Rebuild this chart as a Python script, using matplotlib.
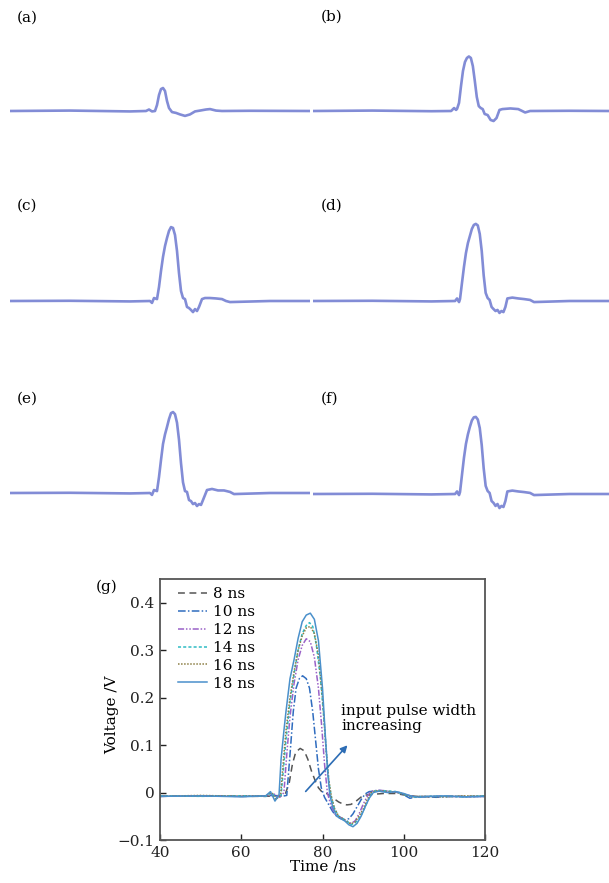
import numpy as np
import matplotlib.pyplot as plt

plt.rcParams['font.family'] = ['DejaVu Serif']

W, H = 609, 883

# ---- oscilloscope traces (a)-(f): time /ns, amplitude /V ----
t_a = [0, 30, 60, 68, 69.5, 71, 72.5, 73.5, 74.5, 75.5, 76.5, 77.5, 78.5, 79.5, 81, 83, 85,
       87.5, 90, 92.5, 95, 98, 100, 103, 106, 120, 150]
v_a = [0, 0.002, -0.002, 0, 0.007, -0.002, 0, 0.028, 0.075, 0.103, 0.108, 0.094, 0.047,
       0.014, -0.005, -0.009, -0.016, -0.023, -0.016, -0.002, 0.002, 0.007, 0.009, 0.002,
       0, 0.001, 0]

t_b = [0, 30, 60, 70, 71.5, 72.5, 73, 74, 75, 76, 77, 78, 79, 80, 81, 82, 83, 84, 85, 86,
       87, 88.5, 90, 91.5, 93, 94.5, 96, 100, 104, 106, 107.5, 110, 130, 150]
v_b = [0, 0.002, -0.001, 0, 0.014, 0.005, 0.01, 0.038, 0.117, 0.188, 0.23, 0.249, 0.256,
       0.249, 0.211, 0.141, 0.066, 0.023, 0.014, 0.009, -0.014, -0.019, -0.042, -0.047,
       -0.033, 0.005, 0.009, 0.012, 0.009, 0, -0.007, 0, 0.001, 0]

t_c = [0, 30, 60, 70, 71, 72, 73.5, 74.5, 75.5, 76.5, 77.5, 78.5, 79.5, 80.5, 81.5, 82.5,
       83.5, 84.5, 85.5, 86.5, 87.5, 88.5, 89.5, 90.5, 91.5, 92.5, 93.5, 94.5, 96, 97.5,
       100, 103, 106, 108, 110, 130, 150]
v_c = [0, 0.001, -0.002, 0, -0.009, 0.014, 0.009, 0.066, 0.141, 0.207, 0.258, 0.296, 0.329,
       0.347, 0.343, 0.31, 0.235, 0.131, 0.047, 0.014, 0.009, -0.028, -0.033, -0.042,
       -0.052, -0.038, -0.047, -0.028, 0.009, 0.014, 0.014, 0.012, 0.009, 0, -0.005, 0, 0]

t_d = [0, 30, 60, 72, 73, 74, 74.5, 75.5, 76.5, 77.5, 78.5, 79.5, 80.5, 81.5, 82.5, 83.5,
       84.5, 85.5, 86.5, 87.5, 88.5, 89.5, 90.5, 91.5, 92.5, 93.5, 94.5, 95.5, 96.5, 97.5,
       98.5, 101, 104, 107, 110, 112, 130, 150]
v_d = [0, 0.001, -0.002, 0, 0.012, -0.005, 0.009, 0.085, 0.16, 0.225, 0.272, 0.305, 0.338,
       0.357, 0.362, 0.355, 0.315, 0.235, 0.12, 0.038, 0.014, 0.005, -0.028, -0.038, -0.047,
       -0.042, -0.056, -0.047, -0.052, -0.028, 0.012, 0.016, 0.012, 0.009, 0.005, -0.005, 0, 0]

t_e = [0, 30, 60, 70, 71, 72, 73.5, 74.5, 75.5, 76.5, 77.5, 78.5, 79.5, 80.5, 81.5, 82.5,
       83.5, 84.5, 85.5, 86.5, 87.5, 88.5, 89.5, 90.5, 91.5, 92.5, 93.5, 94.5, 95.5, 96.5,
       98.5, 101, 104, 107, 110, 112, 130, 150]
v_e = [0, 0.001, -0.002, 0, -0.009, 0.014, 0.009, 0.075, 0.155, 0.23, 0.275, 0.31, 0.347,
       0.375, 0.38, 0.37, 0.33, 0.25, 0.14, 0.05, 0.009, 0.005, -0.033, -0.038, -0.052,
       -0.047, -0.061, -0.052, -0.056, -0.033, 0.014, 0.019, 0.012, 0.012, 0.005, -0.005, 0, 0]

t_f = [0, 30, 60, 72, 73, 74, 74.5, 75.5, 76.5, 77.5, 78.5, 79.5, 80.5, 81.5, 82.5, 83.5,
       84.5, 85.5, 86.5, 87.5, 88.5, 89.5, 90.5, 91.5, 92.5, 93.5, 94.5, 95.5, 96.5, 97.5,
       98.5, 101, 104, 107, 110, 112, 130, 150]
v_f = [0, 0.001, -0.002, 0, 0.012, -0.005, 0.009, 0.09, 0.17, 0.235, 0.28, 0.315, 0.345,
       0.36, 0.362, 0.35, 0.31, 0.23, 0.12, 0.038, 0.014, 0.005, -0.033, -0.042, -0.056,
       -0.047, -0.066, -0.056, -0.061, -0.033, 0.012, 0.016, 0.012, 0.009, 0.005, -0.005, 0, 0]

traces = [('(a)', t_a, v_a), ('(b)', t_b, v_b), ('(c)', t_c, v_c),
          ('(d)', t_d, v_d), ('(e)', t_e, v_e), ('(f)', t_f, v_f)]

# ---- panel (g): measured output for each input pulse width ----
widths = ['8 ns', '10 ns', '12 ns', '14 ns', '16 ns', '18 ns']

t_8 = [40, 50, 60, 66, 68, 70, 70.8, 71.8, 72.6, 73.4, 74.5, 75.5, 76.4, 77.3, 78.2, 79, 80,
       81, 82, 83, 84, 85, 86, 87, 88, 89, 90, 92, 95, 98, 100, 103, 106, 110, 115, 120]
v_8 = [-0.008, -0.007, -0.008, -0.008, -0.007, -0.006, -0.004, 0.02, 0.06, 0.085, 0.093,
       0.088, 0.07, 0.045, 0.025, 0.01, 0.0, -0.002, -0.008, -0.014, -0.02, -0.024, -0.026,
       -0.025, -0.02, -0.013, -0.006, -0.004, -0.002, -0.002, -0.005, -0.008, -0.009,
       -0.008, -0.008, -0.008]

t_10 = [40, 50, 60, 66, 68, 70, 71.2, 72, 72.8, 73.5, 74.3, 75.1, 76, 76.8, 77.6, 78.3, 79,
        79.7, 80.5, 81.5, 82.5, 83.5, 84.5, 85.5, 86.5, 87.5, 88.5, 89.5, 90.5, 91.5, 93,
        96, 99, 101.5, 104, 108, 112, 116, 120]
v_10 = [-0.008, -0.007, -0.008, -0.007, -0.006, -0.008, -0.006, 0.08, 0.17, 0.22, 0.24,
        0.246, 0.24, 0.22, 0.17, 0.11, 0.05, 0.01, -0.01, -0.025, -0.04, -0.05, -0.055,
        -0.058, -0.055, -0.045, -0.03, -0.015, -0.003, 0.002, 0.003, 0.002, 0.0, -0.012,
        -0.008, -0.01, -0.008, -0.009, -0.008]

t_12 = [40, 50, 60, 66, 68, 69.5, 70.5, 71.2, 72, 73, 74, 75, 76, 77, 78, 79, 79.8, 80.5,
        81.2, 82, 83, 84, 85, 86, 87, 88, 89, 90, 91, 92, 94, 96, 98, 100, 103, 106, 110,
        115, 120]
v_12 = [-0.008, -0.007, -0.008, -0.007, -0.003, -0.01, 0.0, 0.08, 0.16, 0.23, 0.28, 0.31,
        0.324, 0.318, 0.285, 0.22, 0.14, 0.06, 0.0, -0.025, -0.045, -0.05, -0.055, -0.06,
        -0.065, -0.06, -0.045, -0.025, -0.008, 0.003, 0.005, 0.003, 0.001, -0.003, -0.01,
        -0.008, -0.008, -0.009, -0.008]

t_14 = [40, 50, 60, 66, 67.5, 68.5, 69.8, 70.4, 71, 72, 73, 74, 75, 76, 76.8, 77.6, 78.5,
        79.5, 80.3, 81, 81.6, 82.2, 83, 84, 85, 86, 87, 88, 89, 90, 91, 92, 93, 95, 98, 100,
        103, 106, 110, 115, 120]
v_14 = [-0.007, -0.008, -0.007, -0.008, 0.0, -0.012, -0.006, 0.05, 0.11, 0.19, 0.25, 0.3,
        0.335, 0.352, 0.358, 0.35, 0.31, 0.24, 0.16, 0.08, 0.02, -0.01, -0.035, -0.05,
        -0.055, -0.06, -0.068, -0.064, -0.055, -0.04, -0.02, -0.003, 0.004, 0.004, 0.002,
        -0.004, -0.01, -0.008, -0.008, -0.009, -0.007]

t_16 = [40, 50, 60, 66, 67.5, 68.5, 69.7, 70.3, 71, 72, 73, 74, 75, 76, 77, 78, 79, 80,
        80.8, 81.5, 82.2, 83, 84, 85, 86, 87, 88, 89, 90, 91, 92, 93, 95, 98, 100, 102, 105,
        110, 115, 120]
v_16 = [-0.008, -0.006, -0.008, -0.007, 0.0, -0.015, -0.005, 0.06, 0.13, 0.2, 0.255, 0.3,
        0.33, 0.347, 0.35, 0.335, 0.29, 0.2, 0.1, 0.03, -0.01, -0.035, -0.05, -0.055,
        -0.062, -0.066, -0.062, -0.05, -0.035, -0.015, 0.0, 0.004, 0.003, 0.001, -0.003,
        -0.009, -0.008, -0.009, -0.007, -0.008]

t_18 = [40, 50, 60, 66, 67.2, 68.3, 69.3, 69.8, 70.5, 71, 72, 73, 74, 75, 76, 77, 78, 79,
        80, 80.7, 81.3, 81.8, 82.5, 83.5, 84.5, 85.5, 86.5, 87.5, 88.5, 89.5, 90.5, 91.5,
        92.5, 94, 96, 98, 100, 102, 104, 106, 110, 115, 120]
v_18 = [-0.008, -0.007, -0.009, -0.007, 0.002, -0.018, -0.005, 0.07, 0.13, 0.17, 0.24,
        0.28, 0.325, 0.36, 0.374, 0.378, 0.365, 0.32, 0.22, 0.12, 0.04, -0.005, -0.03,
        -0.05, -0.055, -0.06, -0.068, -0.072, -0.065, -0.05, -0.03, -0.012, 0.0, 0.003, 0.0,
        0.002, -0.002, -0.008, -0.01, -0.008, -0.007, -0.009, -0.008]

series_t = [t_8, t_10, t_12, t_14, t_16, t_18]
series_v = [v_8, v_10, v_12, v_14, v_16, v_18]
colors = ['#555555', '#2f6cbf', '#9a62c8', '#2fbcc4', '#8c7f45', '#4a90cb']
styles = [(0, (4.5, 3)), (0, (5, 1.5, 1, 1.5)), (0, (4, 1.2, 1, 1.2, 1, 1.2)),
          (0, (2, 1.4)), (0, (1, 1)), '-']


def px_axes(fig, x0, y0, x1, y1):
    # rectangle in pixels (top-left origin)
    return fig.add_axes([x0 / W, 1 - y1 / H, (x1 - x0) / W, (y1 - y0) / H])


fig = plt.figure(figsize=(W / 100, H / 100), dpi=100)

# top six scope panels
scale = 213.0  # px per volt in the scope shots
baselines = [111, 111, 301, 301, 493, 494]
lefts = [(10, 310), (313, 609)]
label_pos = [(27, 18), (332, 17), (27, 206), (332, 206), (27, 399), (330, 399)]
for i, (lab, t, v) in enumerate(traces):
    x0, x1 = lefts[i % 2]
    b = baselines[i]
    ax = px_axes(fig, x0, b - 110, x1, b + 30)
    ax.plot(t, v, color='#7b86d4', lw=1.9, alpha=0.95, solid_joinstyle='round')
    ax.set_xlim(0, 150)
    ax.set_ylim(-30 / scale, 110 / scale)
    ax.axis('off')
    lx, ly = label_pos[i]
    fig.text(lx / W, 1 - ly / H, lab, ha='center', va='center', fontsize=11)

# panel (g)
ax = px_axes(fig, 160, 579, 485, 840)
for t, v, c, ls, lab in zip(series_t, series_v, colors, styles, widths):
    ax.plot(t, v, color=c, linestyle=ls, lw=1.1, label=lab)

ax.set_xlim(40, 120)
ax.set_ylim(-0.1, 0.45)
ax.set_xticks([40, 60, 80, 100, 120])
ax.set_yticks([-0.1, 0, 0.1, 0.2, 0.3, 0.4])
ax.set_yticklabels(['\u22120.1', '0', '0.1', '0.2', '0.3', '0.4'])
ax.tick_params(direction='in', length=4, width=1, labelsize=11, colors='#222222', pad=4)
for s in ax.spines.values():
    s.set_color('#555555')
    s.set_linewidth(1.3)
ax.set_xlabel('Time /ns', fontsize=11, labelpad=0)
ax.set_ylabel('Voltage /V', fontsize=11)
ax.yaxis.set_label_coords(-0.125, 0.48)

ax.legend(loc='upper left', bbox_to_anchor=(0.03, 1.0), frameon=False, fontsize=11,
          handlelength=1.9, handletextpad=0.35, labelspacing=0.25, borderaxespad=0.15)

ax.annotate('', xy=(86.6, 0.104), xytext=(75.4, -0.002),
            arrowprops=dict(arrowstyle='-|>', color='#2d6db5', lw=1.2, mutation_scale=10))
ax.text(84.6, 0.187, 'input pulse width\nincreasing', fontsize=11, va='top', ha='left',
        linespacing=1.15)

fig.text(107 / W, 1 - 587 / H, '(g)', ha='center', va='center', fontsize=11)

fig.savefig('out.png', dpi=100)
